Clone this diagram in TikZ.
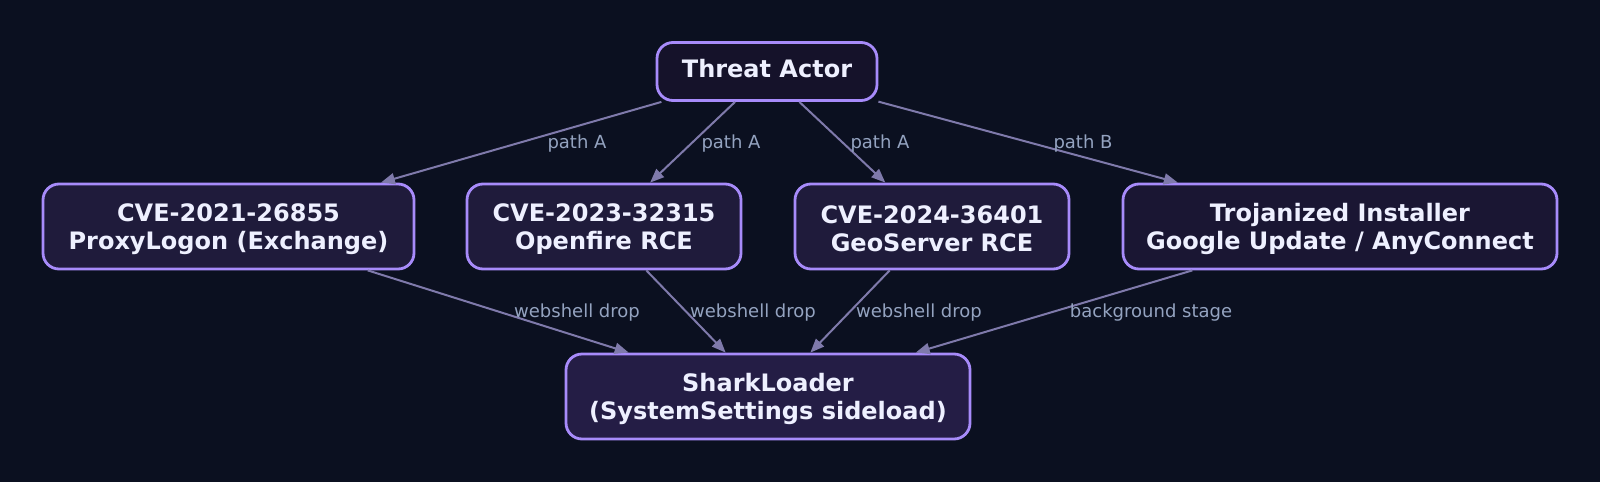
\documentclass[tikz,border=0pt]{standalone}
\usepackage{fontspec}
\setmainfont{DejaVu Sans}
\usetikzlibrary{arrows.meta}
\definecolor{bgcol}{HTML}{0B1020}
\definecolor{boxline}{HTML}{A78BFA}
\definecolor{edgecol}{HTML}{7F7AAB}
\definecolor{lblcol}{HTML}{94A3C0}
\definecolor{txtcol}{HTML}{EEF0FF}
\definecolor{fillta}{HTML}{15122A}
\definecolor{fillcve}{HTML}{1F1B3B}
\definecolor{filltr}{HTML}{1A1633}
\definecolor{fillsl}{HTML}{241D45}
\begin{document}
\begin{tikzpicture}[x=0.5pt, y=-0.5pt,
    box/.style={rectangle, rounded corners=8pt, draw=boxline, line width=1.4pt, text=txtcol, align=center, minimum height=42.5pt, inner sep=0pt, text height=25.6pt, font=\bfseries\fontsize{12}{14}\selectfont},
    edge/.style={draw=edgecol, line width=1pt, -{Triangle[length=7pt,width=5.5pt]}},
    lbl/.style={text=lblcol, inner sep=0pt, font=\fontsize{9}{11}\selectfont}]
        \fill[bgcol] (0,0) rectangle (1600,482);
        \useasboundingbox (0,0) rectangle (1600,482);

        \node[box, fill=fillta, minimum width=110pt, minimum height=29pt, text height=9pt, text depth=3pt] (ta) at (767,71.5) {Threat Actor};

        \node[box, fill=fillcve, minimum width=185.5pt] (c1) at (228.5,226.5) {CVE-2021-26855\\ProxyLogon (Exchange)};
        \node[box, fill=fillcve, minimum width=137pt] (c2) at (604,226.5) {CVE-2023-32315\\Openfire RCE};
        \node[box, fill=fillcve, minimum width=137pt] (c3) at (932,226.5) {CVE-2024-36401\\GeoServer RCE};
        \node[box, fill=filltr, minimum width=217pt] (ti) at (1340,226.5) {Trojanized Installer\\Google Update / AnyConnect};

        \node[box, fill=fillsl, minimum width=202pt] (sl) at (768,396.5) {SharkLoader\\(SystemSettings sideload)};

        \draw[edge] (ta)--(c1);
        \draw[edge] (ta)--(c2);
        \draw[edge] (ta)--(c3);
        \draw[edge] (ta)--(ti);
        \node[lbl] (p1) at (577,144) {path A};
        \node[lbl] (p2) at (731,144) {path A};
        \node[lbl] (p3) at (880,144) {path A};
        \node[lbl] (p4) at (1083,144) {path B};

        \draw[edge] (c1)--(sl);
        \draw[edge] (c2)--(sl);
        \draw[edge] (c3)--(sl);
        \draw[edge] (ti)--(sl);
        \node[lbl] (w1) at (577,313) {webshell drop};
        \node[lbl] (w2) at (753,313) {webshell drop};
        \node[lbl] (w3) at (919,313) {webshell drop};
        \node[lbl] (w4) at (1151,313) {background stage};
\end{tikzpicture}
\end{document}
